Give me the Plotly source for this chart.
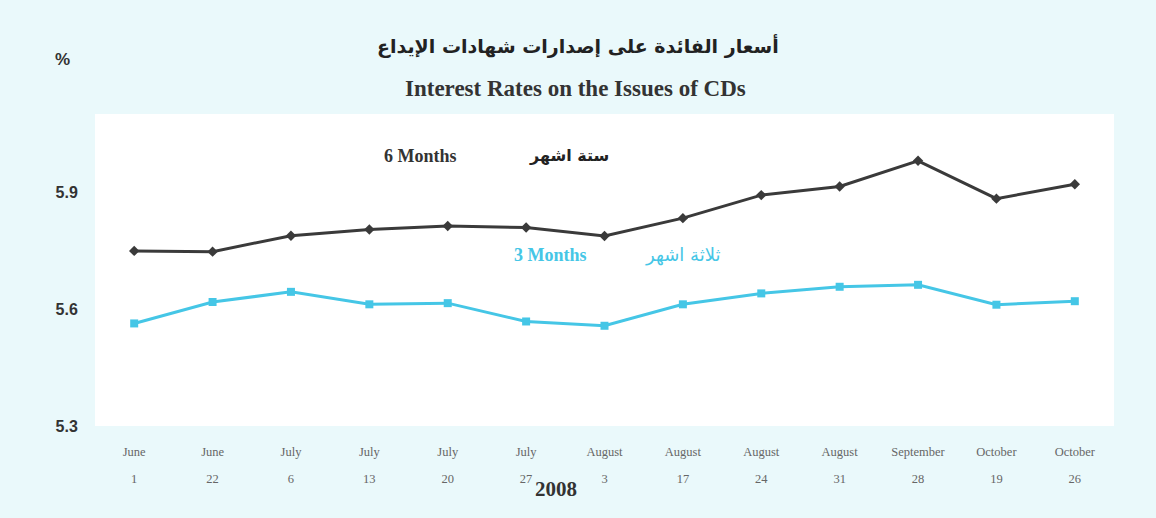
import plotly.graph_objects as go

months = ["June", "June", "July", "July", "July", "July", "August", "August",
          "August", "August", "September", "October", "October"]
days = ["1", "22", "6", "13", "20", "27", "3", "17", "24", "31", "28", "19", "26"]
six_months = [5.749, 5.747, 5.788, 5.804, 5.813, 5.809, 5.787, 5.833, 5.892,
              5.914, 5.980, 5.883, 5.920]
three_months = [5.563, 5.618, 5.644, 5.612, 5.615, 5.568, 5.557, 5.612, 5.640,
                5.657, 5.662, 5.611, 5.620]
y_ticks = [5.3, 5.6, 5.9]

x = list(range(len(months)))

BG = "#eaf9fb"
DARK = "#3a3a3a"
CYAN = "#45c6e6"

fig = go.Figure()
fig.add_trace(go.Scatter(
    x=x, y=six_months, mode="lines+markers", name="6 Months",
    line=dict(color=DARK, width=3),
    marker=dict(symbol="diamond", size=8, color=DARK),
))
fig.add_trace(go.Scatter(
    x=x, y=three_months, mode="lines+markers", name="3 Months",
    line=dict(color=CYAN, width=3),
    marker=dict(symbol="square", size=8, color=CYAN),
))
# helper trace so the day-label axis is drawn
fig.add_trace(go.Scatter(x=x, y=[None] * len(x), xaxis="x2", mode="lines",
                         hoverinfo="skip", showlegend=False))

L, R, T, B = 95, 1114, 114, 426
W, H = 1156, 518


def px(xp):
    return (xp - L) / (R - L)


def py(yp):
    return (B - yp) / (B - T)


serif = "Liberation Serif, Times New Roman, serif"
arab = "DejaVu Sans, Noto Sans, sans-serif"

annotations = [
    dict(text="<b>أسعار الفائدة على إصدارات شهادات الإيداع</b>", x=px(578), y=py(46),
         font=dict(family=arab, size=19, color="#222")),
    dict(text="<b>Interest Rates on the Issues of CDs</b>", x=px(575), y=py(88),
         font=dict(family=serif, size=23, color="#333")),
    dict(text="<b>%</b>", x=px(62), y=py(60),
         font=dict(family="Liberation Sans, Arial, sans-serif", size=17, color="#333")),
    dict(text="<b>6 Months</b>", x=px(420), y=py(156),
         font=dict(family=serif, size=18, color="#333")),
    dict(text="<b>ستة اشهر</b>", x=px(569), y=py(155),
         font=dict(family=arab, size=16, color="#222")),
    dict(text="<b>3 Months</b>", x=px(550), y=py(255),
         font=dict(family=serif, size=18, color=CYAN)),
    dict(text="ثلاثة اشهر", x=px(682), y=py(255),
         font=dict(family=arab, size=18, color=CYAN)),
    dict(text="<b>2008</b>", x=px(556), y=py(489),
         font=dict(family=serif, size=21, color="#333")),
]
for a in annotations:
    a.update(xref="paper", yref="paper", showarrow=False, xanchor="center", yanchor="middle")

common_x = dict(
    range=[-0.5, len(months) - 0.5],
    tickmode="array", tickvals=x,
    showgrid=False, zeroline=False, showline=False,
    ticks="outside", tickcolor="rgba(0,0,0,0)",
    tickfont=dict(family=serif, size=12.5, color="#666"),
    fixedrange=True,
)

fig.update_layout(
    width=W, height=H,
    margin=dict(l=L, r=W - R, t=T, b=H - B),
    paper_bgcolor=BG, plot_bgcolor="white",
    showlegend=False,
    annotations=annotations,
    xaxis=dict(common_x, ticktext=months, ticklen=14),
    xaxis2=dict(common_x, ticktext=days, ticklen=41, overlaying="x", side="bottom",
                anchor="y"),
    yaxis=dict(
        range=[5.3, 6.1],
        tickmode="array", tickvals=y_ticks, ticktext=[f"<b>{v:.1f}</b>" for v in y_ticks],
        showgrid=False, zeroline=False, showline=False,
        ticks="outside", ticklen=13, tickcolor="rgba(0,0,0,0)",
        tickfont=dict(family="Liberation Sans, Arial, sans-serif", size=16, color="#333"),
        fixedrange=True,
    ),
)

fig.write_html("out.html", config={"displayModeBar": False},
               post_script="document.body.style.margin='0';document.body.style.background='" + BG + "';")
